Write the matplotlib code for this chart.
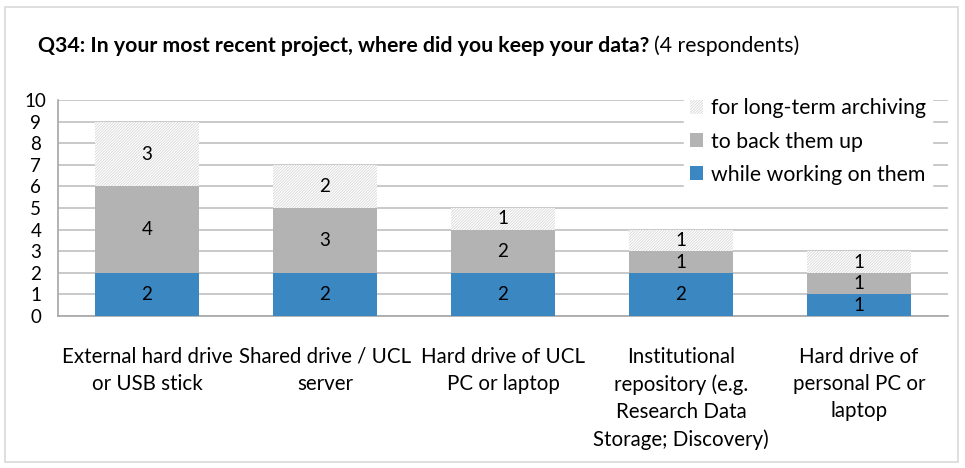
import matplotlib
matplotlib.use("Agg")
import matplotlib.pyplot as plt
from matplotlib.patches import Rectangle, Patch
import numpy as np

categories = ["External hard drive\nor USB stick", "Shared drive / UCL\nserver",
              "Hard drive of UCL\nPC or laptop",
              "Institutional\nrepository (e.g.\nResearch Data\nStorage; Discovery)",
              "Hard drive of\npersonal PC or\nlaptop"]
working = [2, 2, 2, 2, 1]
backup = [4, 3, 2, 1, 1]
archiving = [3, 2, 1, 1, 1]
series_names = ["while working on them", "to back them up", "for long-term archiving"]
yticks = list(range(0, 11))

plt.rcParams['font.family'] = ['Lato', 'DejaVu Sans']

fig = plt.figure(figsize=(9.65, 4.68), dpi=100)
fig.patches.append(Rectangle((5/965, 6/468), 953/965, 455/468, transform=fig.transFigure,
                             fill=False, edgecolor='#d9d9d9', lw=1.2))
ax = fig.add_axes([58/965, 1 - 316/468, 890/965, 216/468])

x = np.arange(len(categories))
w = 0.58
blue = '#3a87c2'
grey = '#b3b3b3'
hatch_col = '#d0d0d0'
plt.rcParams['hatch.color'] = hatch_col
plt.rcParams['hatch.linewidth'] = 0.5
b1 = ax.bar(x, working, w, color=blue, zorder=3)
b2 = ax.bar(x, backup, w, bottom=working, color=grey, zorder=3)
bot3 = np.array(working) + np.array(backup)
b3 = ax.bar(x, archiving, w, bottom=bot3, color='white', edgecolor=hatch_col, hatch='////////////',
            linewidth=0, zorder=3)

for bars, vals, bots in [(b1, working, np.zeros(5)), (b2, backup, working), (b3, archiving, bot3)]:
    for xi, v, b in zip(x, vals, bots):
        ax.text(xi, b + v / 2, str(v), ha='center', va='center', fontsize=13.5, zorder=5)

ax.set_xlim(-0.5, 4.5)
ax.set_ylim(0, 10)
ax.set_yticks(yticks)
ax.set_xticks(x)
ax.set_xticklabels(categories, fontsize=14.8, linespacing=1.46, va='top')
ax.tick_params(axis='y', length=0, labelsize=13.5, pad=16)
ax.tick_params(axis='x', length=0, pad=22)
for lab in ax.get_yticklabels():
    lab.set_horizontalalignment('center')
ax.yaxis.grid(True, color='#c0c0c0', lw=1.2, zorder=0)
ax.set_axisbelow(True)
for s in ['top', 'right']:
    ax.spines[s].set_visible(False)
ax.spines['left'].set_color('#a6a6a6')
ax.spines['bottom'].set_color('#a6a6a6')
ax.spines['left'].set_linewidth(1.2)
ax.spines['bottom'].set_linewidth(1.2)

handles = [Patch(facecolor='white', edgecolor=hatch_col, hatch='////////////', lw=0),
           Patch(facecolor=grey), Patch(facecolor=blue)]
leg = ax.legend(handles, ["for long-term archiving", "to back them up", "while working on them"],
                loc='upper left', bbox_to_anchor=(684/965, 1 - 92/468), bbox_transform=fig.transFigure,
                frameon=True, fancybox=False, edgecolor='white', framealpha=1, fontsize=15.3,
                handlelength=0.6, handleheight=0.6, handletextpad=0.35, labelspacing=0.62,
                borderaxespad=0, borderpad=0.3)
leg.set_zorder(10)

fig.text(38/965, 1 - 46/468, "Q34: In your most recent project, where did you keep your data?",
         fontsize=15.3, fontweight='bold', va='center', ha='left')
fig.canvas.draw()
t = fig.texts[-1]
bb = t.get_window_extent()
fig.text((bb.x1 + 5) / 965, 1 - 46/468, "(4 respondents)", fontsize=15.3, va='center', ha='left')

fig.savefig("out.png", dpi=100)
